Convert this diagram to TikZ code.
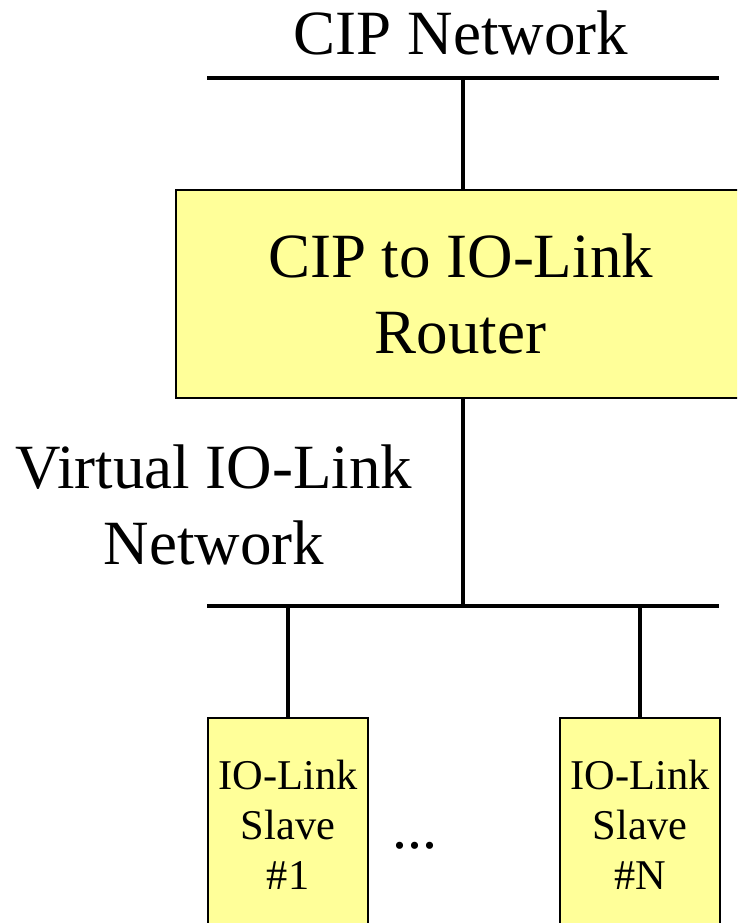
\documentclass[tikz,border=0pt]{standalone}
\usepackage{fontspec}
\setmainfont{Liberation Serif}
\usetikzlibrary{positioning}
\definecolor{boxyellow}{HTML}{FFFF99}

\begin{document}
\begin{tikzpicture}[
    x=1pt, y=-1pt,
    block/.style={rectangle, draw, line width=2.6pt, fill=boxyellow, align=center, inner sep=0pt},
    bus/.style={line width=4pt},
    biglabel/.style={font=\fontsize{63}{76}\selectfont, align=center, inner sep=0pt},
    slave/.style={block, minimum width=160pt, minimum height=214pt, font=\fontsize{42.4}{50}\selectfont}
]
\clip (0,0) rectangle (737,923);

% CIP side
\node[biglabel, anchor=base] (cipname) at (461,55) {CIP Network};
\coordinate (cipL) at (207,78);
\coordinate (cipR) at (719,78);
\coordinate (cipT) at (463,78);

\node[block, biglabel, draw, fill=boxyellow, minimum width=569pt, minimum height=208pt] (router) at (460.5,294) {CIP to IO-Link\\Router};

% virtual IO-Link side
\node[biglabel] (ioname) at (214,505) {Virtual IO-Link\\Network};
\coordinate (ioL) at (207,606);
\coordinate (ioR) at (719,606);
\coordinate (ioT) at (463,606);

\node[slave] (slave1) at (288,825) {IO-Link\\Slave\\\#1};
\node[slave] (slaveN) at (640,825) {IO-Link\\Slave\\\#N};
\node[font=\fontsize{60}{60}\selectfont, inner sep=0pt, anchor=base] (dots) at (415,848) {...};

\draw[bus] (cipL) -- (cipR);
\draw[bus] (cipT) -- (cipT |- router.north);
\draw[bus] (ioT |- router.south) -- (ioT);
\draw[bus] (ioL) -- (ioR);
\draw[bus] (slave1.north |- ioL) -- (slave1.north);
\draw[bus] (slaveN.north |- ioL) -- (slaveN.north);

\end{tikzpicture}
\end{document}
